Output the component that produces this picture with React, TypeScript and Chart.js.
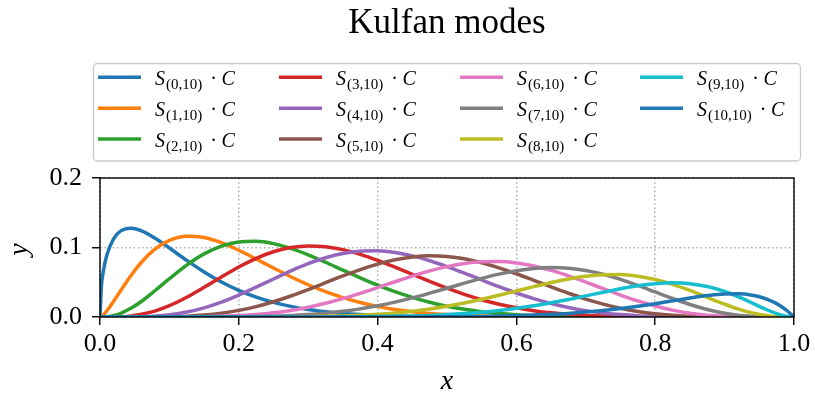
import React, { useEffect, useRef } from 'react';
import { Chart, registerables } from 'chart.js';

Chart.register(...registerables);

const TITLE = 'Kulfan modes';
const X_LABEL = 'x';
const Y_LABEL = 'y';

const X_VALUES = [
  0, 0.002, 0.005, 0.01, 0.02, 0.03, 0.045, 0.06, 0.08, 0.1,
  0.125, 0.15, 0.175, 0.2, 0.225, 0.25, 0.275, 0.3, 0.325, 0.35,
  0.375, 0.4, 0.425, 0.45, 0.475, 0.5, 0.525, 0.55, 0.575, 0.6,
  0.625, 0.65, 0.675, 0.7, 0.725, 0.75, 0.775, 0.8, 0.825, 0.85,
  0.875, 0.9, 0.92, 0.94, 0.955, 0.97, 0.98, 0.99, 1,
];

const S0 = [
  0, 0.0437, 0.0669, 0.0895, 0.1132, 0.1239, 0.1278, 0.124, 0.113, 0.0992,
  0.0814, 0.0648, 0.0504, 0.0384, 0.0287, 0.0211, 0.0153, 0.0108, 0.0076, 0.0052,
  0.0035, 0.0023, 0.0015, 0.0009, 0.0006, 0.0003, 0.0002, 0.0001, 0.0001, 0,
  0, 0, 0, 0, 0, 0, 0, 0, 0, 0,
  0, 0, 0, 0, 0, 0, 0, 0, 0,
];
const S1 = [
  0, 0.0009, 0.0034, 0.009, 0.0231, 0.0383, 0.0602, 0.0792, 0.0983, 0.1103,
  0.1163, 0.1144, 0.1069, 0.096, 0.0834, 0.0704, 0.0579, 0.0464, 0.0364, 0.0279,
  0.0209, 0.0153, 0.0109, 0.0077, 0.0052, 0.0035, 0.0022, 0.0014, 0.0008, 0.0005,
  0.0003, 0.0001, 0.0001, 0, 0, 0, 0, 0, 0, 0,
  0, 0, 0, 0, 0, 0, 0, 0, 0,
];
const S2 = [
  0, 0, 0.0001, 0.0004, 0.0021, 0.0053, 0.0128, 0.0227, 0.0385, 0.0551,
  0.0747, 0.0908, 0.1021, 0.108, 0.109, 0.1056, 0.0988, 0.0895, 0.0788, 0.0675,
  0.0564, 0.0459, 0.0364, 0.0282, 0.0212, 0.0155, 0.0111, 0.0076, 0.0051, 0.0033,
  0.002, 0.0012, 0.0007, 0.0004, 0.0002, 0.0001, 0, 0, 0, 0,
  0, 0, 0, 0, 0, 0, 0, 0, 0,
];
const S3 = [
  0, 0, 0, 0, 0.0001, 0.0004, 0.0016, 0.0039, 0.0089, 0.0163,
  0.0285, 0.0427, 0.0577, 0.072, 0.0844, 0.0939, 0.0999, 0.1023, 0.1012, 0.097,
  0.0902, 0.0816, 0.0718, 0.0615, 0.0512, 0.0414, 0.0326, 0.0249, 0.0184, 0.0132,
  0.0091, 0.006, 0.0038, 0.0023, 0.0013, 0.0007, 0.0003, 0.0001, 0.0001, 0,
  0, 0, 0, 0, 0, 0, 0, 0, 0,
];
const S4 = [
  0, 0, 0, 0, 0, 0, 0.0001, 0.0004, 0.0014, 0.0032,
  0.0071, 0.0132, 0.0214, 0.0315, 0.0429, 0.0547, 0.0663, 0.0767, 0.0853, 0.0914,
  0.0947, 0.0952, 0.0928, 0.088, 0.081, 0.0725, 0.0631, 0.0533, 0.0436, 0.0345,
  0.0264, 0.0194, 0.0137, 0.0092, 0.0059, 0.0035, 0.0019, 0.001, 0.0004, 0.0002,
  0.0001, 0, 0, 0, 0, 0, 0, 0, 0,
];
const S5 = [
  0, 0, 0, 0, 0, 0, 0, 0, 0.0001, 0.0004,
  0.0012, 0.0028, 0.0055, 0.0095, 0.0149, 0.0219, 0.0302, 0.0395, 0.0493, 0.0591,
  0.0682, 0.0761, 0.0823, 0.0864, 0.088, 0.087, 0.0837, 0.0781, 0.0708, 0.0622,
  0.0528, 0.0433, 0.0342, 0.0258, 0.0186, 0.0126, 0.008, 0.0047, 0.0025, 0.0012,
  0.0005, 0.0001, 0, 0, 0, 0, 0, 0, 0,
];
const S6 = [
  0, 0, 0, 0, 0, 0, 0, 0, 0, 0,
  0.0001, 0.0004, 0.001, 0.002, 0.0036, 0.0061, 0.0095, 0.0141, 0.0198, 0.0265,
  0.0341, 0.0423, 0.0507, 0.0589, 0.0663, 0.0725, 0.0771, 0.0796, 0.0798, 0.0777,
  0.0734, 0.0671, 0.0592, 0.0502, 0.0408, 0.0316, 0.0231, 0.0158, 0.0099, 0.0055,
  0.0027, 0.0011, 0.0004, 0.0001, 0, 0, 0, 0, 0,
];
const S7 = [
  0, 0, 0, 0, 0, 0, 0, 0, 0, 0,
  0, 0, 0.0001, 0.0003, 0.0006, 0.0012, 0.0021, 0.0035, 0.0054, 0.0082,
  0.0117, 0.0161, 0.0214, 0.0275, 0.0343, 0.0414, 0.0487, 0.0556, 0.0617, 0.0666,
  0.0699, 0.0712, 0.0702, 0.067, 0.0615, 0.0542, 0.0455, 0.036, 0.0266, 0.018,
  0.0108, 0.0054, 0.0026, 0.001, 0.0003, 0.0001, 0, 0, 0,
];
const S8 = [
  0, 0, 0, 0, 0, 0, 0, 0, 0, 0,
  0, 0, 0, 0, 0.0001, 0.0001, 0.0003, 0.0006, 0.001, 0.0016,
  0.0026, 0.004, 0.0059, 0.0084, 0.0116, 0.0155, 0.0202, 0.0255, 0.0313, 0.0375,
  0.0437, 0.0496, 0.0547, 0.0586, 0.0608, 0.061, 0.0587, 0.054, 0.047, 0.0382,
  0.0282, 0.0184, 0.0113, 0.0057, 0.0028, 0.0009, 0.0003, 0, 0,
];
const S9 = [
  0, 0, 0, 0, 0, 0, 0, 0, 0, 0,
  0, 0, 0, 0, 0, 0, 0, 0.0001, 0.0001, 0.0002,
  0.0004, 0.0006, 0.001, 0.0015, 0.0023, 0.0035, 0.005, 0.0069, 0.0094, 0.0125,
  0.0162, 0.0205, 0.0252, 0.0304, 0.0356, 0.0406, 0.045, 0.048, 0.0492, 0.048,
  0.0439, 0.0368, 0.029, 0.02, 0.0131, 0.0067, 0.0033, 0.0009, 0,
];
const S10 = [
  0, 0, 0, 0, 0, 0, 0, 0, 0, 0,
  0, 0, 0, 0, 0, 0, 0, 0, 0, 0,
  0, 0, 0.0001, 0.0001, 0.0002, 0.0003, 0.0005, 0.0008, 0.0013, 0.0019,
  0.0027, 0.0038, 0.0052, 0.0071, 0.0094, 0.0122, 0.0155, 0.0192, 0.0232, 0.0272,
  0.0308, 0.0331, 0.0333, 0.0313, 0.0277, 0.0218, 0.0162, 0.009, 0,
];

const SERIES = [S0, S1, S2, S3, S4, S5, S6, S7, S8, S9, S10];
const SUBSCRIPTS = [
  '(0,10)', '(1,10)', '(2,10)', '(3,10)', '(4,10)', '(5,10)',
  '(6,10)', '(7,10)', '(8,10)', '(9,10)', '(10,10)',
];
const COLORS = [
  '#1f77b4', '#ff7f0e', '#2ca02c', '#d62728', '#9467bd', '#8c564b',
  '#e377c2', '#7f7f7f', '#bcbd22', '#17becf', '#1f77b4',
];
const X_TICKS_STEP = 0.2;
const Y_TICKS_STEP = 0.1;

const SERIF = '"Liberation Serif", "DejaVu Serif", serif';
const W = 815;
const H = 394;

const LEG_COL_X = [98, 279, 460, 640];
const LEG_ROW_Y = [77.3, 108.3, 139];

const overlayPlugin = {
  id: 'overlay',
  afterDatasetsDraw(chart: any) {
    const { ctx, chartArea: a } = chart;
    ctx.save();
    ctx.strokeStyle = '#000';
    ctx.lineWidth = 1.4;
    ctx.strokeRect(a.left, a.top, a.right - a.left, a.bottom - a.top);
    ctx.restore();
  },
  afterDraw(chart: any) {
    const { ctx, chartArea: a } = chart;
    ctx.save();
    ctx.fillStyle = '#000';
    // Title
    ctx.font = `35px ${SERIF}`;
    ctx.textAlign = 'center';
    ctx.textBaseline = 'alphabetic';
    ctx.fillText(TITLE, (a.left + a.right) / 2, 33);

    // Legend frame
    ctx.beginPath();
    if (ctx.roundRect) ctx.roundRect(93.5, 63.5, 707, 97.5, 4);
    else ctx.rect(93.5, 63.5, 707, 97.5);
    ctx.fillStyle = 'rgba(255,255,255,0.8)';
    ctx.fill();
    ctx.strokeStyle = '#cccccc';
    ctx.lineWidth = 1.3;
    ctx.stroke();

    // Legend entries
    ctx.textAlign = 'left';
    SUBSCRIPTS.forEach((sub, i) => {
      const col = Math.floor(i / 3);
      const row = i % 3;
      const mx = LEG_COL_X[col];
      const my = LEG_ROW_Y[row];
      ctx.strokeStyle = COLORS[i];
      ctx.lineWidth = 3.5;
      ctx.beginPath();
      ctx.moveTo(mx, my);
      ctx.lineTo(mx + 43, my);
      ctx.stroke();
      ctx.fillStyle = '#000';
      let tx = mx + 57;
      const by = my + 7.7;
      ctx.font = `italic 20px ${SERIF}`;
      ctx.fillText('S', tx, by);
      tx += ctx.measureText('S').width + 1;
      ctx.font = `15px ${SERIF}`;
      ctx.fillText(sub, tx, by + 4);
      tx += ctx.measureText(sub).width + 8;
      ctx.font = `20px ${SERIF}`;
      ctx.fillText('·', tx, by);
      tx += ctx.measureText('·').width + 4.5;
      ctx.font = `italic 20px ${SERIF}`;
      ctx.fillText('C', tx, by);
    });

    // Axis labels
    ctx.fillStyle = '#000';
    ctx.font = `italic 28px ${SERIF}`;
    ctx.textAlign = 'center';
    ctx.textBaseline = 'alphabetic';
    ctx.fillText(X_LABEL, (a.left + a.right) / 2, 389);
    ctx.translate(27, (a.top + a.bottom) / 2 + 2);
    ctx.rotate(-Math.PI / 2);
    ctx.fillText(Y_LABEL, 0, 0);
    ctx.restore();
  },
};

export default function App() {
  const ref = useRef<HTMLCanvasElement | null>(null);
  useEffect(() => {
    if (!ref.current) return;
    const datasets = SERIES.map((arr, i) => ({
      label: `S${SUBSCRIPTS[i]} · C`,
      data: X_VALUES.map((x, k) => ({ x, y: arr[k] })),
      borderColor: COLORS[i],
      backgroundColor: COLORS[i],
      borderWidth: 3.5,
      pointRadius: 0,
      pointHoverRadius: 0,
      cubicInterpolationMode: 'monotone' as const,
      fill: false,
      clip: 0,
      order: SERIES.length - i,
    }));
    const gridOpts = {
      color: '#b0b0b0',
      lineWidth: 1.5,
      drawTicks: true,
      tickLength: 8,
      tickColor: '#000',
      tickWidth: 1.4,
    };
    const chart = new Chart(ref.current, {
      type: 'line',
      data: { datasets },
      options: {
        animation: false,
        responsive: false,
        maintainAspectRatio: false,
        events: [],
        layout: { padding: { left: 0, right: 21, top: 178, bottom: 0 } },
        plugins: {
          legend: { display: false },
          title: { display: false },
          tooltip: { enabled: false },
        },
        scales: {
          x: {
            type: 'linear',
            min: 0,
            max: 1,
            afterFit: (s: any) => { s.height = 77; },
            ticks: {
              stepSize: X_TICKS_STEP,
              color: '#000',
              padding: 4,
              font: { family: SERIF, size: 26 },
              callback: (v: any) => Number(v).toFixed(1),
            },
            grid: gridOpts,
            border: { display: false, dash: [1.6, 2.6] },
          },
          y: {
            type: 'linear',
            min: 0,
            max: 0.2,
            afterFit: (s: any) => { s.width = 100; },
            ticks: {
              stepSize: Y_TICKS_STEP,
              color: '#000',
              padding: 10,
              font: { family: SERIF, size: 26 },
              callback: (v: any) => Number(v).toFixed(1),
            },
            grid: gridOpts,
            border: { display: false, dash: [1.6, 2.6] },
          },
        },
      },
      plugins: [overlayPlugin],
    });
    return () => chart.destroy();
  }, []);
  return (
    <div style={{ position: 'fixed', left: 0, top: 0, width: W, height: H, background: '#fff' }}>
      <canvas ref={ref} width={W} height={H} style={{ width: W, height: H, display: 'block' }} />
    </div>
  );
}
